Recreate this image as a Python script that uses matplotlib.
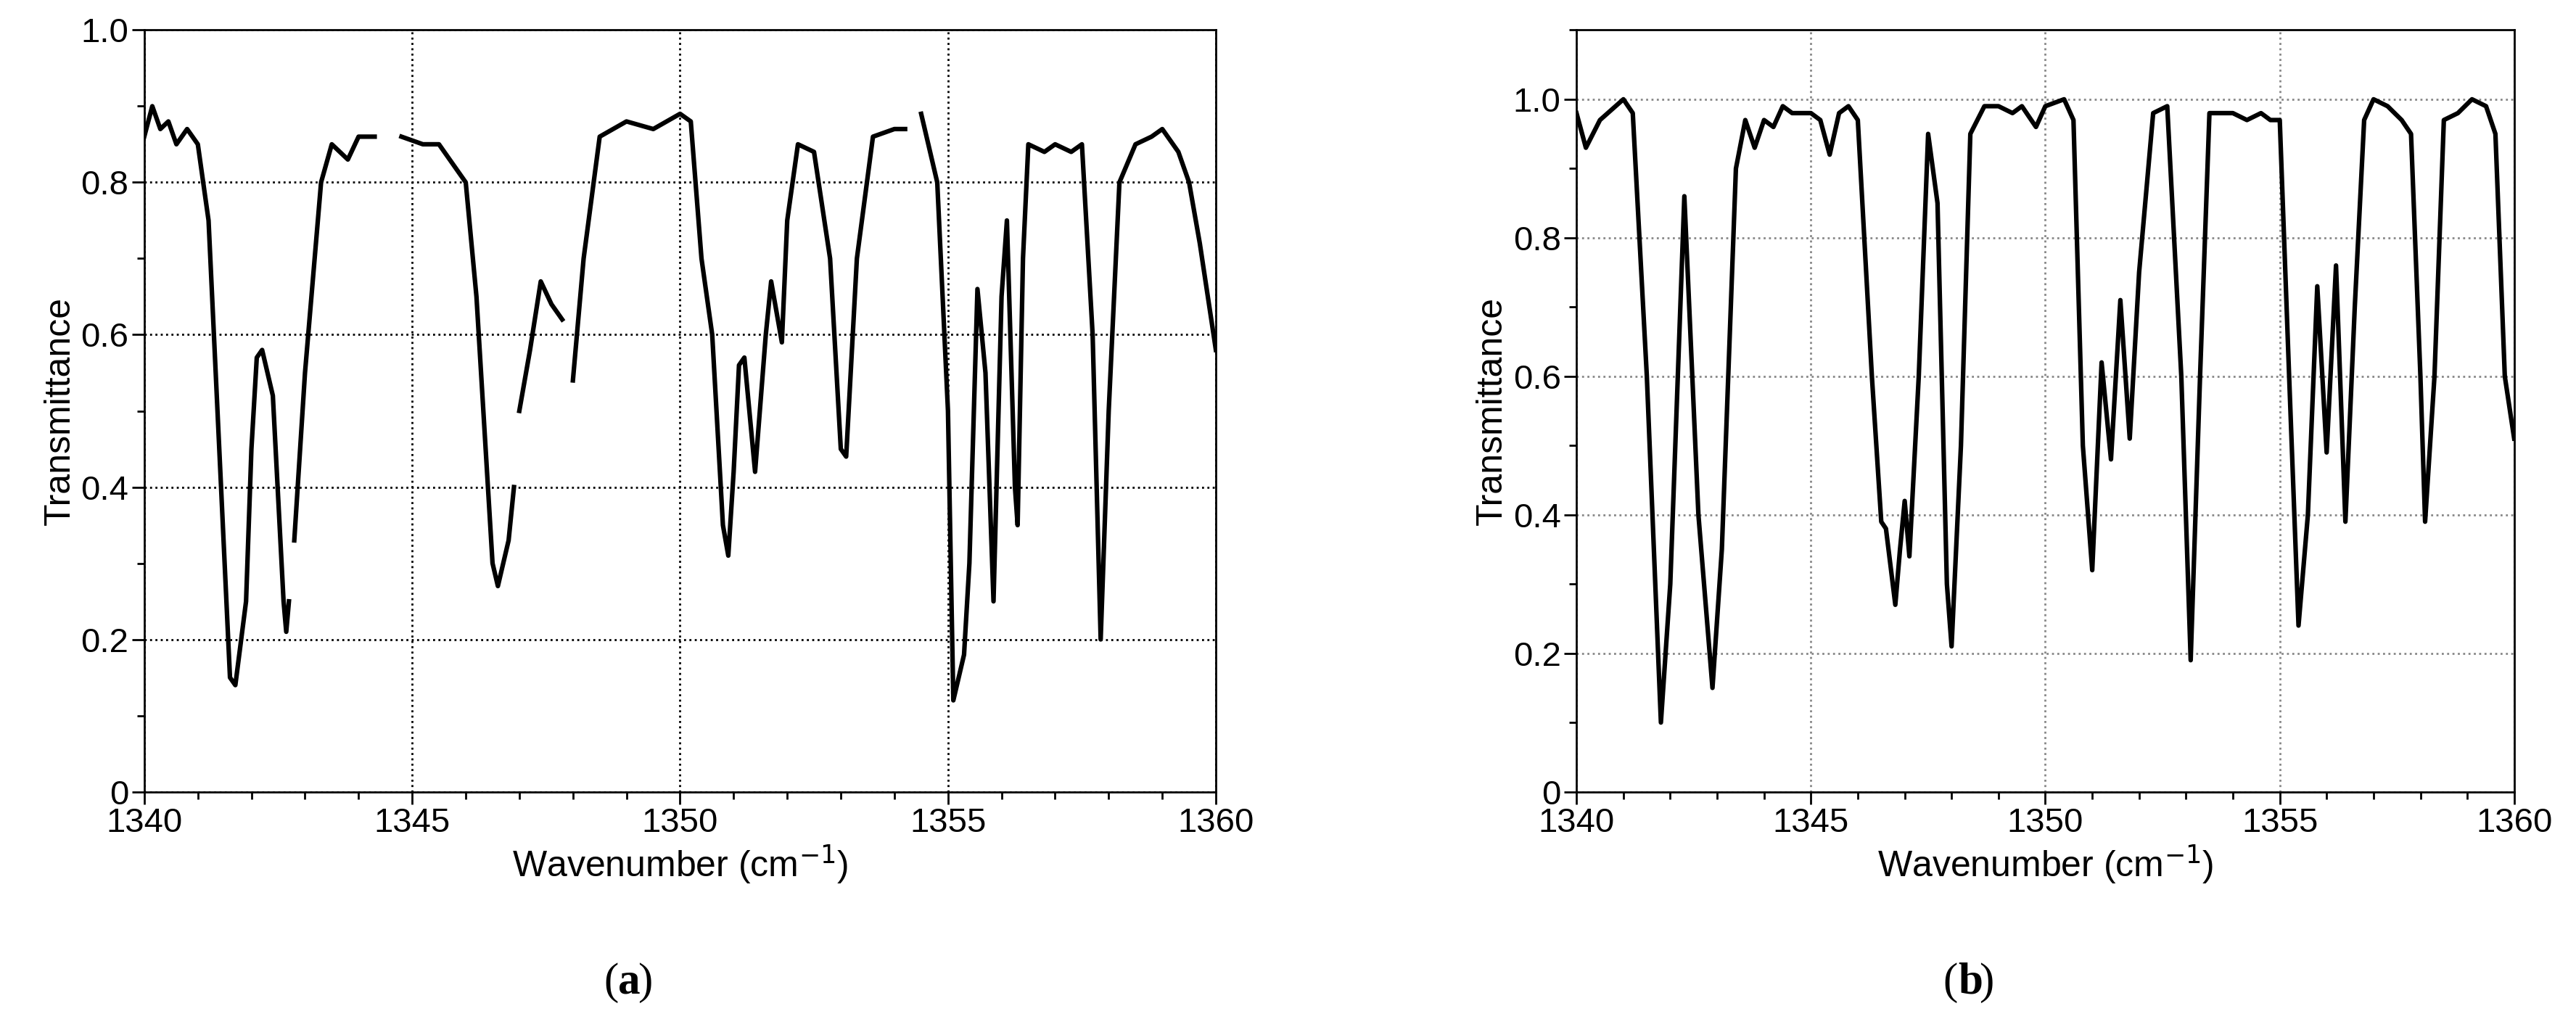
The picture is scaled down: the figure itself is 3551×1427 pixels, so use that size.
import numpy as np
import matplotlib
matplotlib.use("Agg")
import matplotlib.pyplot as plt
from matplotlib.ticker import MultipleLocator

plt.rcParams['font.family'] = ['Liberation Sans', 'DejaVu Sans']

nan = np.nan
wn_a = [1340,1340.15,1340.3,1340.45,1340.6,1340.8,1341,1341.2,1341.4,1341.6,1341.7,1341.9,1342.0,1342.1,1342.2,1342.4,1342.6,1342.65,1342.7,
        1342.75,1342.8,1343,1343.3,1343.5,1343.8,1344,1344.3,1344.5,
        1344.8,1345.2,1345.5,1346,1346.2,1346.5,1346.6,1346.8,1346.9,1346.95,
        1347.0,1347.2,1347.4,1347.6,1347.8,1347.9,
        1348,1348.2,1348.5,1349,1349.5,1350,1350.2,1350.4,1350.6,1350.8,1350.9,1351,1351.1,1351.2,1351.4,1351.6,1351.7,1351.9,1352,1352.2,1352.5,1352.8,1353.0,1353.1,1353.3,1353.6,1354,1354.2,1354.35,
        1354.5,1354.8,1355,1355.1,1355.3,1355.4,1355.55,1355.7,1355.85,1356,1356.1,1356.25,1356.3,1356.4,1356.5,1356.8,1357,1357.3,1357.5,1357.7,1357.85,1358,1358.2,1358.5,1358.8,1359,1359.3,1359.5,1359.7,1360]
tr_a = [0.86,0.9,0.87,0.88,0.85,0.87,0.85,0.75,0.45,0.15,0.14,0.25,0.45,0.57,0.58,0.52,0.25,0.21,0.25,
        nan,0.33,0.55,0.8,0.85,0.83,0.86,0.86,nan,
        0.86,0.85,0.85,0.80,0.65,0.30,0.27,0.33,0.40,nan,
        0.50,0.58,0.67,0.64,0.62,nan,
        0.54,0.70,0.86,0.88,0.87,0.89,0.88,0.70,0.60,0.35,0.31,0.42,0.56,0.57,0.42,0.60,0.67,0.59,0.75,0.85,0.84,0.70,0.45,0.44,0.70,0.86,0.87,0.87,nan,
        0.89,0.80,0.50,0.12,0.18,0.30,0.66,0.55,0.25,0.65,0.75,0.40,0.35,0.70,0.85,0.84,0.85,0.84,0.85,0.60,0.20,0.50,0.80,0.85,0.86,0.87,0.84,0.80,0.72,0.58]

wn_b = [1340,1340.2,1340.5,1341,1341.2,1341.5,1341.8,1342.0,1342.3,1342.6,1342.9,1343.1,1343.4,1343.6,1343.8,1344,1344.2,1344.4,1344.6,1345,1345.2,1345.4,1345.6,1345.8,1346,1346.3,1346.5,1346.6,1346.8,1346.9,1347,1347.1,1347.3,1347.5,1347.7,1347.9,1348,1348.2,1348.4,1348.7,1349,1349.3,1349.5,1349.8,1350,1350.4,1350.6,1350.8,1351,1351.2,1351.4,1351.6,1351.8,1352,1352.3,1352.6,1352.9,1353.1,1353.3,1353.5,1354,1354.3,1354.6,1354.8,1355,1355.2,1355.4,1355.6,1355.8,1356.0,1356.2,1356.4,1356.6,1356.8,1357,1357.3,1357.6,1357.8,1358,1358.1,1358.3,1358.5,1358.8,1359.1,1359.4,1359.6,1359.8,1360]
tr_b = [0.98,0.93,0.97,1.0,0.98,0.6,0.1,0.3,0.86,0.4,0.15,0.35,0.9,0.97,0.93,0.97,0.96,0.99,0.98,0.98,0.97,0.92,0.98,0.99,0.97,0.6,0.39,0.38,0.27,0.35,0.42,0.34,0.6,0.95,0.85,0.3,0.21,0.5,0.95,0.99,0.99,0.98,0.99,0.96,0.99,1.0,0.97,0.5,0.32,0.62,0.48,0.71,0.51,0.75,0.98,0.99,0.6,0.19,0.6,0.98,0.98,0.97,0.98,0.97,0.97,0.6,0.24,0.4,0.73,0.49,0.76,0.39,0.7,0.97,1.0,0.99,0.97,0.95,0.6,0.39,0.6,0.97,0.98,1.0,0.99,0.95,0.6,0.51]

fig = plt.figure(figsize=(35.51, 14.27), dpi=100)
axa = fig.add_axes([0.056, 0.235, 0.416, 0.736])
axb = fig.add_axes([0.612, 0.235, 0.364, 0.736])

for ax, wn, tr, ylim, gc in [(axa, wn_a, tr_a, (0, 1.0), 'black'), (axb, wn_b, tr_b, (0, 1.1), '#888888')]:
    ax.plot(wn, tr, color='black', lw=4.5, solid_joinstyle='round')
    ax.set_xlim(1340, 1360)
    ax.set_ylim(*ylim)
    ax.set_xticks([1340, 1345, 1350, 1355, 1360])
    ax.set_yticks([0, 0.2, 0.4, 0.6, 0.8, 1.0])
    ax.set_yticklabels(['0', '0.2', '0.4', '0.6', '0.8', '1.0'])
    ax.yaxis.set_minor_locator(MultipleLocator(0.1))
    ax.xaxis.set_minor_locator(MultipleLocator(1))
    ax.grid(True, which='major', color=gc, linestyle=':', lw=2)
    ax.tick_params(labelsize=34, width=2, length=12, direction='out')
    ax.tick_params(which='minor', width=2, length=7)
    for s in ax.spines.values():
        s.set_linewidth(2)
    ax.set_xlabel('Wavenumber (cm$^{-1}$)', fontsize=36)
    ax.set_ylabel('Transmittance', fontsize=36)

for xc, letter in [(0.24, 'a'), (0.76, 'b')]:
    t = fig.text(xc, 0.04, '(', fontsize=44, family='Liberation Serif', ha='right')
    fig.text(xc, 0.04, letter, fontsize=44, family='Liberation Serif', weight='bold')
    fig.text(xc + (0.0075 if letter == 'a' else 0.0082), 0.04, ')', fontsize=44, family='Liberation Serif')

fig.savefig('out.png', dpi=100)
